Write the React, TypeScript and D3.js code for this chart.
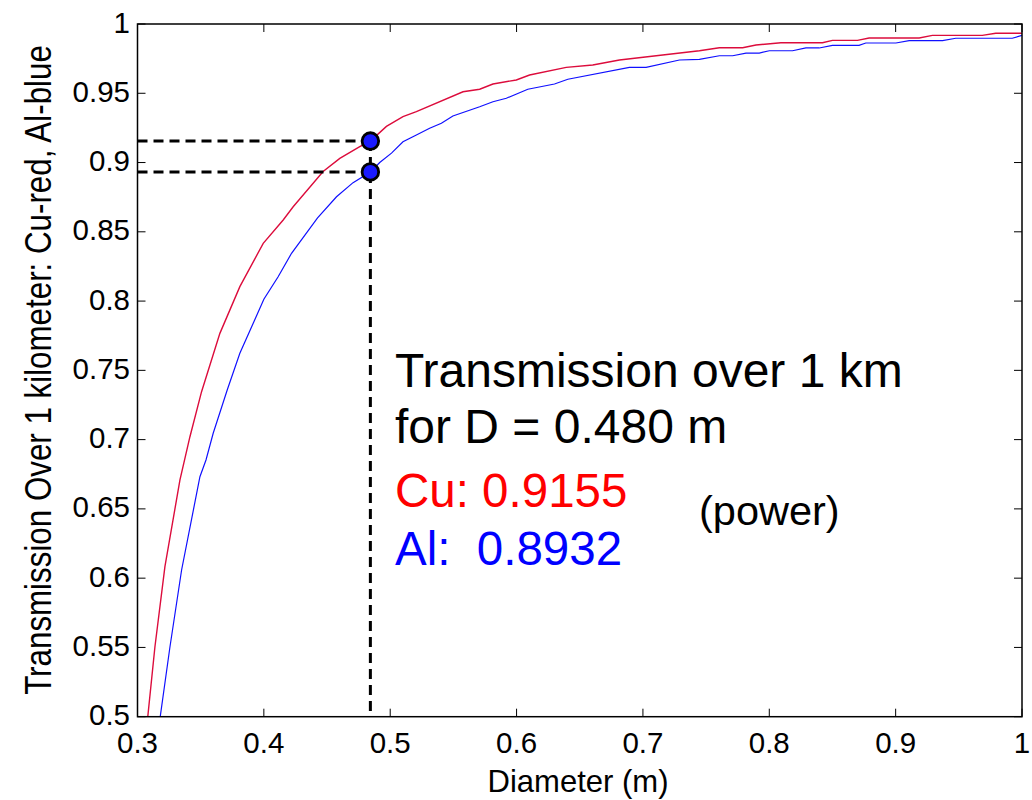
import React from "react";
import * as d3 from "d3";

// Diameter (m) -> transmission over 1 km
const cuDiam = [0.308, 0.3138, 0.3217, 0.3336, 0.3415, 0.3507, 0.3652, 0.381, 0.3995, 0.4153, 0.4232, 0.4469, 0.4601, 0.4759, 0.4843, 0.497, 0.5101, 0.5207, 0.5576, 0.5708, 0.5813, 0.5998, 0.6103, 0.6393, 0.6603, 0.6814, 0.7447, 0.7605, 0.7789, 0.7895, 0.8092, 0.8421, 0.85, 0.8698, 0.879, 0.9186, 0.9291, 0.9686, 0.9792, 1.0];
const cuTrans = [0.4988, 0.5505, 0.6083, 0.6709, 0.7021, 0.7346, 0.7767, 0.8104, 0.8417, 0.8585, 0.8681, 0.8935, 0.903, 0.9115, 0.9155, 0.9261, 0.9331, 0.9367, 0.9511, 0.9529, 0.9567, 0.9596, 0.9632, 0.9687, 0.9704, 0.974, 0.9807, 0.9829, 0.9829, 0.9848, 0.9865, 0.9865, 0.9882, 0.9882, 0.9899, 0.9899, 0.9918, 0.9918, 0.9933, 0.9933];

const alDiam = [0.3178, 0.3257, 0.3349, 0.3494, 0.3542, 0.3599, 0.371, 0.381, 0.4, 0.4113, 0.4219, 0.4425, 0.4575, 0.4706, 0.4843, 0.4917, 0.501, 0.5101, 0.5207, 0.5312, 0.5405, 0.5496, 0.5708, 0.5813, 0.5919, 0.6089, 0.63, 0.6406, 0.6893, 0.7025, 0.7289, 0.7447, 0.7605, 0.771, 0.7816, 0.7921, 0.8, 0.8184, 0.829, 0.8395, 0.85, 0.871, 0.8764, 0.9002, 0.9107, 0.9371, 0.9476, 0.9923, 1.0];
const alTrans = [0.4988, 0.5505, 0.6059, 0.6732, 0.6853, 0.7046, 0.7358, 0.7623, 0.8013, 0.8176, 0.8345, 0.86, 0.8753, 0.8855, 0.8932, 0.9, 0.9068, 0.915, 0.9199, 0.9247, 0.9283, 0.9336, 0.9403, 0.9439, 0.9464, 0.9529, 0.9567, 0.9601, 0.9687, 0.9687, 0.974, 0.9745, 0.9771, 0.9771, 0.979, 0.979, 0.9807, 0.9807, 0.9827, 0.9827, 0.9846, 0.9846, 0.9863, 0.9863, 0.988, 0.988, 0.9897, 0.9897, 0.9918];

const markerD = 0.4843;
const markerCu = 0.9155;
const markerAl = 0.8932;

const xTicks = [0.3, 0.4, 0.5, 0.6, 0.7, 0.8, 0.9, 1];
const yTicks = [0.5, 0.55, 0.6, 0.65, 0.7, 0.75, 0.8, 0.85, 0.9, 0.95, 1];

const FONT = "'Liberation Sans', Arial, Helvetica, sans-serif";

export default function App() {
  const left = 137.5;
  const right = 1022;
  const top = 24;
  const bottom = 716.7;

  const x = d3.scaleLinear().domain([0.3, 1]).range([left, right]);
  const y = d3.scaleLinear().domain([0.5, 1]).range([bottom, top]);

  const line = d3
    .line<[number, number]>()
    .x((d) => x(d[0]))
    .y((d) => y(d[1]));

  const cu = cuDiam.map((d, i) => [d, cuTrans[i]] as [number, number]);
  const al = alDiam.map((d, i) => [d, alTrans[i]] as [number, number]);

  const tickLen = 8;
  const fmt = (v: number) => (v === 1 ? "1" : String(v));

  return (
    <svg
      width={1032}
      height={800}
      style={{ position: "absolute", left: 0, top: 0, background: "#fff" }}
      fontFamily={FONT}
    >
      <defs>
        <clipPath id="plot">
          <rect x={left} y={top} width={right - left} height={bottom - top} />
        </clipPath>
      </defs>

      {/* ticks inward on all four sides */}
      {xTicks.map((t) => (
        <g key={"x" + t} stroke="#000" strokeWidth={1}>
          <line x1={x(t)} x2={x(t)} y1={bottom} y2={bottom - tickLen} />
          <line x1={x(t)} x2={x(t)} y1={top} y2={top + tickLen} />
        </g>
      ))}
      {yTicks.map((t) => (
        <g key={"y" + t} stroke="#000" strokeWidth={1}>
          <line x1={left} x2={left + tickLen} y1={y(t)} y2={y(t)} />
          <line x1={right} x2={right - tickLen} y1={y(t)} y2={y(t)} />
        </g>
      ))}

      {/* curves */}
      <g clipPath="url(#plot)" fill="none">
        <path d={line(cu) || ""} stroke="#dc0c3c" strokeWidth={1.4} />
        <path d={line(al) || ""} stroke="#1010ff" strokeWidth={1.2} />
      </g>

      {/* dashed guide lines */}
      <g stroke="#000" strokeWidth={3} strokeDasharray="10,6" fill="none">
        <line x1={left} x2={x(markerD)} y1={y(markerCu)} y2={y(markerCu)} />
        <line x1={left} x2={x(markerD)} y1={y(markerAl)} y2={y(markerAl)} />
        <line x1={x(markerD)} x2={x(markerD)} y1={y(markerCu)} y2={bottom} />
      </g>

      {/* markers */}
      {[markerCu, markerAl].map((v) => (
        <circle
          key={v}
          cx={x(markerD)}
          cy={y(v)}
          r={8.3}
          fill="#1a1aff"
          stroke="#000"
          strokeWidth={2.8}
        />
      ))}

      {/* box */}
      <rect
        x={left}
        y={top}
        width={right - left}
        height={bottom - top}
        fill="none"
        stroke="#000"
        strokeWidth={1.5}
      />

      {/* tick labels */}
      {xTicks.map((t) => (
        <text key={"xl" + t} x={x(t)} y={753} textAnchor="middle" fontSize={29.5}>
          {fmt(t)}
        </text>
      ))}
      {yTicks.map((t) => (
        <text key={"yl" + t} x={130} y={y(t) + 8.5} textAnchor="end" fontSize={29.5}>
          {fmt(t)}
        </text>
      ))}

      {/* axis labels */}
      <text x={578} y={792} textAnchor="middle" fontSize={32} textLength={181} lengthAdjust="spacingAndGlyphs">
        Diameter (m)
      </text>
      <text
        transform="translate(51,370) rotate(-90) scale(0.87,1)"
        textAnchor="middle"
        fontSize={36}
      >
        Transmission Over 1 kilometer: Cu-red, Al-blue
      </text>

      {/* annotations */}
      <text x={395} y={386.7} fontSize={48}>
        Transmission over 1 km
      </text>
      <text x={395} y={443.3} fontSize={48}>
        for D = 0.480 m
      </text>
      <text x={395} y={506.7} fontSize={47.5} fill="#ff0000" style={{ whiteSpace: "pre" }}>
        Cu: 0.9155
      </text>
      <text x={395} y={565} fontSize={47.5} fill="#0000ff" style={{ whiteSpace: "pre" }}>
        {"Al:  0.8932"}
      </text>
      <text x={699} y={525} fontSize={41.5}>
        (power)
      </text>
    </svg>
  );
}
